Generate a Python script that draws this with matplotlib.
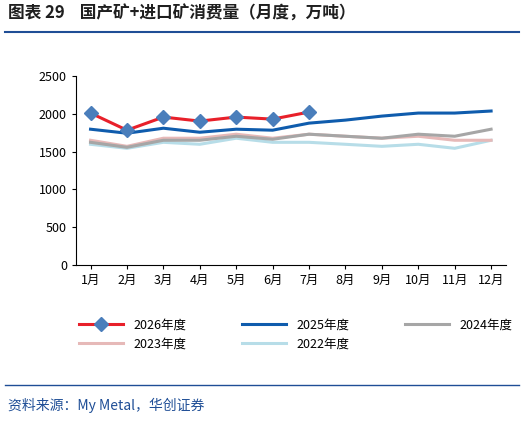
import matplotlib
matplotlib.use("Agg")
import matplotlib.pyplot as plt

plt.rcParams['font.family'] = ['Noto Sans CJK SC', 'DejaVu Sans']

months = ["1月", "2月", "3月", "4月", "5月", "6月", "7月", "8月", "9月", "10月", "11月", "12月"]
y2026 = [2008, 1782, 1955, 1902, 1955, 1928, 2021]
y2025 = [1795, 1742, 1808, 1755, 1795, 1782, 1875, 1915, 1968, 2008, 2008, 2035]
y2024 = [1622, 1556, 1649, 1649, 1702, 1662, 1729, 1702, 1676, 1729, 1702, 1795]
y2023 = [1649, 1569, 1676, 1676, 1729, 1676, 1729, 1702, 1676, 1702, 1649, 1649]
y2022 = [1596, 1543, 1622, 1596, 1676, 1622, 1622, 1596, 1569, 1596, 1543, 1649]

fig = plt.figure(figsize=(5.24, 4.21), dpi=100)
ax = fig.add_axes([0.145, 0.37, 0.82, 0.45])

x = range(len(months))
ax.plot(x, y2022, color="#b7dde8", lw=2.2, label="2022年度")
ax.plot(x, y2023, color="#e6b9b8", lw=2.2, label="2023年度")
ax.plot(x, y2024, color="#a6a6a6", lw=2.2, label="2024年度")
ax.plot(x, y2025, color="#0f5cad", lw=2.2, label="2025年度")
ax.plot(x[:len(y2026)], y2026, color="#e8202a", lw=2.2, marker="D", ms=7,
        mfc="#4a7ebb", mec="#4a7ebb", label="2026年度")

ax.set_xlim(-0.4, 11.4)
ax.set_ylim(0, 2500)
ax.set_yticks(range(0, 2501, 500))
ax.set_xticks(list(x))
ax.set_xticklabels(months)
ax.tick_params(labelsize=9, length=3)
for s in ["top", "right"]:
    ax.spines[s].set_visible(False)

h, l = ax.get_legend_handles_labels()
# column-major fill: 2026, 2023 | 2025, 2022 | 2024
order = [4, 1, 3, 0, 2]
fig.legend([h[i] for i in order], [l[i] for i in order], ncol=3, loc="upper left",
           bbox_to_anchor=(0.13, 0.27), frameon=False, fontsize=9,
           handlelength=3.5, columnspacing=4.5)

fig.text(0.015, 0.955, "图表 29    国产矿+进口矿消费量（月度，万吨）", fontsize=12,
         fontweight="bold", color="#1f1f1f")
fig.add_artist(plt.Line2D([0.01, 0.99], [0.925, 0.925], color="#1f4e96", lw=1.5))
fig.add_artist(plt.Line2D([0.01, 0.99], [0.085, 0.085], color="#1f4e96", lw=1))
fig.text(0.015, 0.025, "资料来源：My Metal，华创证券", fontsize=10, style="italic",
         color="#1f4e96")

fig.savefig("out.png", dpi=100)
